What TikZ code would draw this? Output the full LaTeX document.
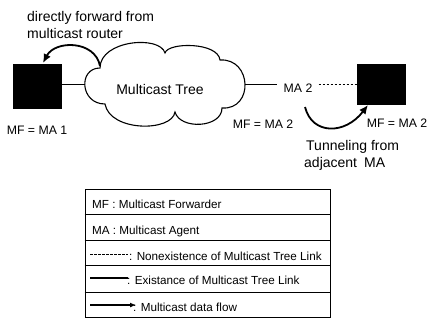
\documentclass[tikz,border=0pt]{standalone}
\usepackage{fontspec}
\setmainfont{Liberation Sans}
\usetikzlibrary{arrows.meta}
\begin{document}
\begin{tikzpicture}[x=1pt,y=-1pt,
  host/.style={fill=black,draw=black,minimum width=48pt,inner sep=0pt},
  lbl/.style={font=\fontsize{12.3}{14}\selectfont,inner sep=0pt,anchor=base},
  big/.style={font=\fontsize{14}{16}\selectfont,inner sep=0pt,anchor=base west},
  flow/.style={line width=1.8pt,-{Latex[length=9pt,width=8pt]}},
  link/.style={line width=0.8pt},
  nolink/.style={line width=0.8pt,dash pattern=on 2.5pt off 1.5pt},
  legtxt/.style={font=\fontsize{11.7}{14}\selectfont,anchor=base west,inner sep=0pt}]
\useasboundingbox (0,0) rectangle (428,322);

% hosts
\node[host,minimum height=44pt] (mf1) at (37,86) {};
\node[host,minimum height=40pt] (mf2) at (381,84) {};

% multicast tree cloud
\draw[line width=1.1pt]
  (100,68) .. controls (100,40) and (160,35) .. (165,53)
  .. controls (168,42) and (218,42) .. (220,60)
  .. controls (252,58) and (254,110) .. (222,108)
  .. controls (222,128) and (180,130) .. (175,112)
  .. controls (172,132) and (110,132) .. (105,104)
  .. controls (80,104) and (78,68) .. (100,68) -- cycle;
\coordinate (cw) at (85,84);
\coordinate (ce) at (245,84);
\coordinate (ctop) at (100,66);
\node[font=\fontsize{14}{16}\selectfont,inner sep=0pt,anchor=base] (tree) at (160,94) {Multicast Tree};

% links
\node[lbl,inner xsep=6pt] (ma2) at (298,92) {MA 2};
\draw[link] (cw -| mf1.east) -- (cw);
\draw[link] (ce) -- (ce -| ma2.west);
\draw[nolink] (ce -| ma2.east) -- (ce -| mf2.west);

% labels
\node[lbl] (l1) at (37,134) {MF = MA 1};
\node[lbl] (l2) at (263,128) {MF = MA 2};
\node[lbl,anchor=base east] (l3) at (427.5,127) {MF = MA 2};
\node[big] (t1) at (27,21) {directly forward from};
\node[big] (t2) at (27,38) {multicast router};
\node[big] (t3) at (306,150) {Tunneling from};
\node[big] (t4) at (304,167) {adjacent\enspace MA};

% data flows
\coordinate (fl) at (43,63);
\draw[flow] (ctop) .. controls (95,40) and (55,40) .. (fl);
\coordinate (fr0) at (305,107);
\coordinate (fr) at (368,105);
\draw[flow] (fr0) .. controls (312,135) and (345,135) .. (fr);

% legend
\node[draw,line width=0.8pt,minimum width=245pt,minimum height=128pt,inner sep=0pt] (leg) at (207.5,253) {};
\foreach \yy in {214,240,265,292} \draw[line width=0.7pt] (leg.west |- 0,\yy) -- (leg.east |- 0,\yy);
\node[legtxt] (g1) at (92,208) {MF : Multicast Forwarder};
\node[legtxt] (g2) at (92,234.5) {MA : Multicast Agent};
\coordinate (d1) at (90,254); \coordinate (d2) at (128,254);
\draw[nolink] (d1) -- (d2);
\node[legtxt] (g3) at (129,260) {: Nonexistence of Multicast Tree Link};
\coordinate (s1) at (90,278); \coordinate (s2) at (128,278);
\draw[line width=1.2pt] (s1) -- (s2);
\node[legtxt] (g4) at (127,284) {: Existance of Multicast Tree Link};
\coordinate (a1) at (90,305); \coordinate (a2) at (136,305);
\draw[line width=1.2pt,-{Latex[length=6pt,width=5pt]}] (a1) -- (a2);
\node[legtxt] (g5) at (133,311) {: Multicast data flow};
\end{tikzpicture}
\end{document}
